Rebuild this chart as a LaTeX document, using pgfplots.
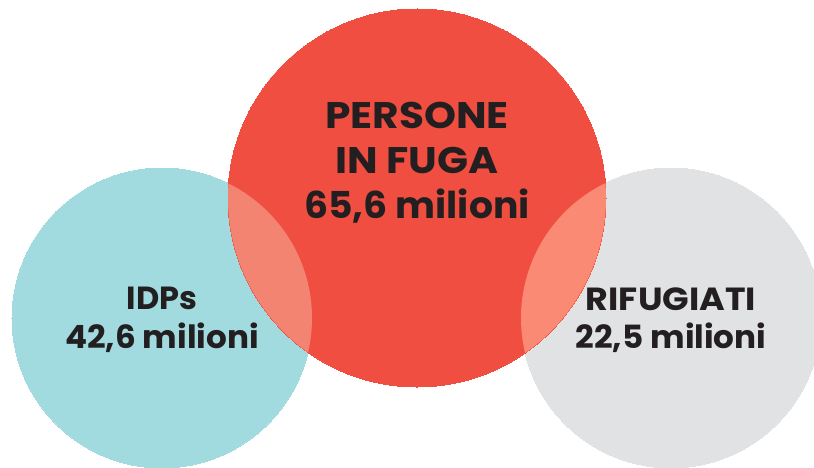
\documentclass[border=0pt]{standalone}
\usepackage{pgfplots}
\pgfplotsset{compat=1.18}
\usepackage{fontspec}
\setmainfont{Poppins}

\definecolor{idpteal}{HTML}{A1DADF}
\definecolor{fugared}{HTML}{EF4E41}
\definecolor{rifgray}{HTML}{E1E2E4}
\definecolor{lensleft}{HTML}{F48472}
\definecolor{lensright}{HTML}{FA8A73}
\definecolor{txt}{HTML}{231F20}

% overlap of a side circle with the big red one (offset = red centre - side centre)
\pgfdeclareplotmark{lensL}{%
  \begin{pgfscope}%
  \pgfpathcircle{\pgfpoint{255pt}{120pt}}{189pt}\pgfusepath{clip}%
  \pgfpathcircle{\pgfpointorigin}{150pt}\pgfusepath{fill}%
  \end{pgfscope}}
\pgfdeclareplotmark{lensR}{%
  \begin{pgfscope}%
  \pgfpathcircle{\pgfpoint{-254pt}{120pt}}{189pt}\pgfusepath{clip}%
  \pgfpathcircle{\pgfpointorigin}{150pt}\pgfusepath{fill}%
  \end{pgfscope}}

\tikzset{
  bigl/.style={anchor=base, text=txt, font=\bfseries\fontsize{37}{37}\selectfont, inner sep=0pt},
  smalll/.style={anchor=base, text=txt, font=\bfseries\fontsize{32}{32}\selectfont, inner sep=0pt},
}

\begin{document}
\begin{tikzpicture}
\begin{axis}[
    x=1pt, y=1pt,
    xmin=-3, xmax=817, ymin=-3, ymax=470,
    hide axis,
    clip=true,
    clip marker paths=true,
]
% circles: centre, radius in pt
\addplot[only marks, mark=*, mark size=150pt, color=idpteal, mark options={fill=idpteal, draw=idpteal, line width=0pt}] coordinates {(162,149)};
\addplot[only marks, mark=*, mark size=150pt, color=rifgray, mark options={fill=rifgray, draw=rifgray, line width=0pt}] coordinates {(671,149)};
\addplot[only marks, mark=*, mark size=189pt, color=fugared, mark options={fill=fugared, draw=fugared, line width=0pt}] coordinates {(417,269)};
\addplot[only marks, mark=lensL, color=lensleft, mark options={fill=lensleft}] coordinates {(162,149)};
\addplot[only marks, mark=lensR, color=lensright, mark options={fill=lensright}] coordinates {(671,149)};

\node[bigl] at (axis cs:417,339) {\scalebox{1.1}[1]{PERSONE}};
\node[bigl] at (axis cs:417,294) {\scalebox{1.1}[1]{IN FUGA}};
\node[bigl] at (axis cs:417,249) {\scalebox{1.02}[1]{65,6 milioni}};
\node[smalll] at (axis cs:162,158) {IDPs};
\node[smalll] at (axis cs:162,119) {\scalebox{1.02}[1]{42,6 milioni}};
\node[smalll] at (axis cs:671,157) {\scalebox{1.09}[1]{RIFUGIATI}};
\node[smalll] at (axis cs:671,119) {\scalebox{1.02}[1]{22,5 milioni}};
\end{axis}
\pgfresetboundingbox
\useasboundingbox ([shift={(3pt,3pt)}]current axis.south west) rectangle ([shift={(-3pt,-3pt)}]current axis.north east);
\end{tikzpicture}
\end{document}
